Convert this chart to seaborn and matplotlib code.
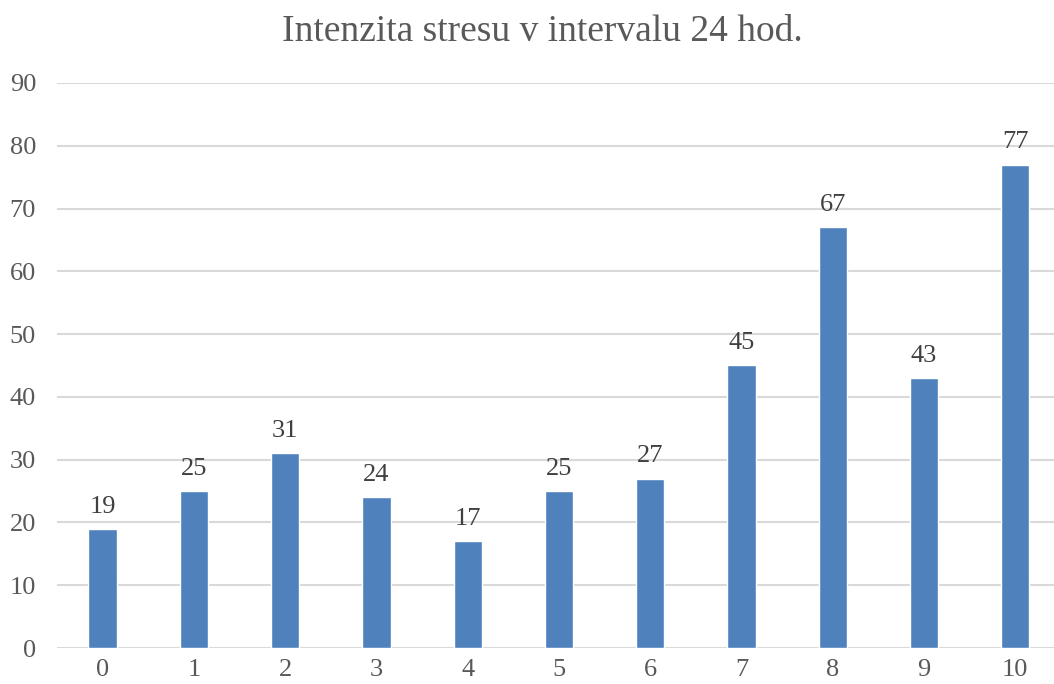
import matplotlib
matplotlib.use('Agg')
import matplotlib.pyplot as plt
import seaborn as sns

hours = ['0', '1', '2', '3', '4', '5', '6', '7', '8', '9', '10']
stress = [19, 25, 31, 24, 17, 25, 27, 45, 67, 43, 77]

sns.set_style('white')
plt.rcParams['font.family'] = ['Liberation Serif', 'DejaVu Serif']

fig = plt.figure(figsize=(10.54, 6.84), dpi=100)
ax = fig.add_axes([0.054, 0.0526, 0.9526, 0.8261])

sns.barplot(x=hours, y=stress, color='#4F81BD', saturation=1, width=0.31, ax=ax)

ax.set_ylim(0, 90)
ax.set_xlim(-0.5, 10.5)
ax.set_yticks(range(0, 91, 10))
ax.yaxis.grid(True, color='#D9D9D9', linewidth=1.5)
ax.set_axisbelow(True)
for s in ax.spines.values():
    s.set_visible(False)
ax.tick_params(axis='both', length=0, labelsize=19, labelcolor='#595959')
ax.tick_params(axis='y', pad=15)
ax.tick_params(axis='x', pad=8)
ax.set_xlabel('')
ax.set_ylabel('')

for c in ax.containers:
    ax.bar_label(c, fontsize=19, color='#404040', padding=8)

fig.text(0.515, 0.953, 'Intenzita stresu v intervalu 24 hod.', ha='center', va='center',
         fontsize=27, color='#595959')

fig.savefig('out.png', dpi=100)
